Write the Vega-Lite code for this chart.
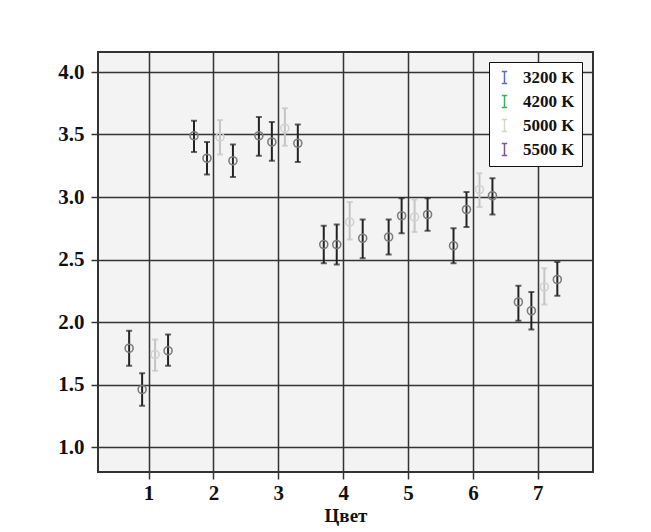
{
  "$schema": "https://vega.github.io/schema/vega-lite/v6.json",
  "width": 495,
  "height": 420,
  "autosize": {"type": "none"},
  "padding": {"left": 98, "top": 52, "right": 58, "bottom": 60},
  "background": "white",
  "config": {
    "view": {"fill": "#f3f3f3", "stroke": "#333", "strokeWidth": 2},
    "font": "Liberation Serif",
    "axis": {
      "gridColor": "#333", "gridOpacity": 1, "gridWidth": 1.5,
      "tickColor": "#333", "tickWidth": 1.5, "tickSize": 7,
      "domain": false,
      "labelFont": "Liberation Serif", "labelFontWeight": "bold", "labelFontSize": 21, "labelColor": "#111",
      "titleFont": "Liberation Serif", "titleFontWeight": "bold", "titleFontSize": 19, "titleColor": "#111"
    }
  },
  "data": {"values": [
    {"color": 1, "temp": "3200 K", "mean": 1.79, "lo": 1.65, "hi": 1.93},
    {"color": 1, "temp": "4200 K", "mean": 1.46, "lo": 1.33, "hi": 1.59},
    {"color": 1, "temp": "5000 K", "mean": 1.74, "lo": 1.61, "hi": 1.86},
    {"color": 1, "temp": "5500 K", "mean": 1.77, "lo": 1.65, "hi": 1.90},
    {"color": 2, "temp": "3200 K", "mean": 3.49, "lo": 3.36, "hi": 3.61},
    {"color": 2, "temp": "4200 K", "mean": 3.31, "lo": 3.18, "hi": 3.44},
    {"color": 2, "temp": "5000 K", "mean": 3.48, "lo": 3.34, "hi": 3.615},
    {"color": 2, "temp": "5500 K", "mean": 3.29, "lo": 3.16, "hi": 3.42},
    {"color": 3, "temp": "3200 K", "mean": 3.49, "lo": 3.33, "hi": 3.64},
    {"color": 3, "temp": "4200 K", "mean": 3.44, "lo": 3.29, "hi": 3.60},
    {"color": 3, "temp": "5000 K", "mean": 3.55, "lo": 3.41, "hi": 3.71},
    {"color": 3, "temp": "5500 K", "mean": 3.43, "lo": 3.28, "hi": 3.58},
    {"color": 4, "temp": "3200 K", "mean": 2.62, "lo": 2.47, "hi": 2.77},
    {"color": 4, "temp": "4200 K", "mean": 2.62, "lo": 2.46, "hi": 2.78},
    {"color": 4, "temp": "5000 K", "mean": 2.80, "lo": 2.66, "hi": 2.96},
    {"color": 4, "temp": "5500 K", "mean": 2.67, "lo": 2.51, "hi": 2.82},
    {"color": 5, "temp": "3200 K", "mean": 2.68, "lo": 2.54, "hi": 2.82},
    {"color": 5, "temp": "4200 K", "mean": 2.85, "lo": 2.71, "hi": 2.99},
    {"color": 5, "temp": "5000 K", "mean": 2.84, "lo": 2.72, "hi": 2.98},
    {"color": 5, "temp": "5500 K", "mean": 2.86, "lo": 2.73, "hi": 2.99},
    {"color": 6, "temp": "3200 K", "mean": 2.61, "lo": 2.47, "hi": 2.75},
    {"color": 6, "temp": "4200 K", "mean": 2.90, "lo": 2.76, "hi": 3.04},
    {"color": 6, "temp": "5000 K", "mean": 3.06, "lo": 2.92, "hi": 3.19},
    {"color": 6, "temp": "5500 K", "mean": 3.01, "lo": 2.86, "hi": 3.15},
    {"color": 7, "temp": "3200 K", "mean": 2.16, "lo": 2.01, "hi": 2.29},
    {"color": 7, "temp": "4200 K", "mean": 2.09, "lo": 1.94, "hi": 2.24},
    {"color": 7, "temp": "5000 K", "mean": 2.28, "lo": 2.14, "hi": 2.43},
    {"color": 7, "temp": "5500 K", "mean": 2.34, "lo": 2.21, "hi": 2.48}
  ]},
  "transform": [
    {"calculate": "datum.color + (datum.temp == '3200 K' ? -0.3 : datum.temp == '4200 K' ? -0.1 : datum.temp == '5000 K' ? 0.1 : 0.3)", "as": "xpos"}
  ],
  "encoding": {
    "x": {
      "field": "xpos", "type": "quantitative",
      "scale": {"domain": [0.22, 7.85], "nice": false, "zero": false},
      "axis": {"values": [1, 2, 3, 4, 5, 6, 7], "format": "d", "title": "Цвет", "labelPadding": 3, "titlePadding": 3}
    }
  },
  "layer": [
    {
      "mark": {"type": "rule", "strokeWidth": 2},
      "encoding": {
        "y": {
          "field": "lo", "type": "quantitative",
          "scale": {"domain": [0.8, 4.16], "nice": false, "zero": false},
          "axis": {"values": [1, 1.5, 2, 2.5, 3, 3.5, 4], "format": ".1f", "title": null, "labelPadding": 7}
        },
        "y2": {"field": "hi"},
        "color": {"field": "temp", "type": "nominal", "scale": {"domain": ["3200 K", "4200 K", "5000 K", "5500 K"], "range": ["#222", "#222", "#c4c4c4", "#222"]}, "legend": null}
      }
    },
    {
      "mark": {"type": "tick", "orient": "horizontal", "size": 6, "thickness": 2},
      "encoding": {
        "y": {"field": "lo", "type": "quantitative"},
        "color": {"field": "temp", "type": "nominal", "scale": {"domain": ["3200 K", "4200 K", "5000 K", "5500 K"], "range": ["#222", "#222", "#c4c4c4", "#222"]}, "legend": null}
      }
    },
    {
      "mark": {"type": "tick", "orient": "horizontal", "size": 6, "thickness": 2},
      "encoding": {
        "y": {"field": "hi", "type": "quantitative"},
        "color": {"field": "temp", "type": "nominal", "scale": {"domain": ["3200 K", "4200 K", "5000 K", "5500 K"], "range": ["#222", "#222", "#c4c4c4", "#222"]}, "legend": null}
      }
    },
    {
      "mark": {"type": "point", "shape": "circle", "filled": false, "size": 64, "strokeWidth": 1.6, "opacity": 1},
      "encoding": {
        "y": {"field": "mean", "type": "quantitative"},
        "color": {"field": "temp", "type": "nominal", "scale": {"domain": ["3200 K", "4200 K", "5000 K", "5500 K"], "range": ["#7c7c7c", "#7c7c7c", "#d2d2d2", "#7c7c7c"]}, "legend": null}
      }
    },
    {
      "transform": [{"filter": "false"}],
      "mark": {"type": "rule", "strokeWidth": 1.5},
      "encoding": {
        "y": {"field": "mean", "type": "quantitative"},
        "color": {
          "field": "temp", "type": "nominal",
          "scale": {"domain": ["3200 K", "4200 K", "5000 K", "5500 K"], "range": ["#5b6fc6", "#3daf5f", "#d6d6c6", "#8151a8"]},
          "legend": {
            "orient": "none", "legendX": 391, "legendY": 10, "title": null,
            "symbolType": "M-0.45,-1H0.45M0,-1V1M-0.45,1H0.45",
            "symbolSize": 144, "symbolStrokeWidth": 1.5,
            "labelFont": "Liberation Serif", "labelFontWeight": "bold", "labelFontSize": 17, "labelColor": "#111",
            "strokeColor": "#111", "fillColor": "white", "padding": 7, "rowPadding": 5, "labelOffset": 10
          }
        }
      }
    }
  ],
  "resolve": {"scale": {"color": "independent"}}
}
